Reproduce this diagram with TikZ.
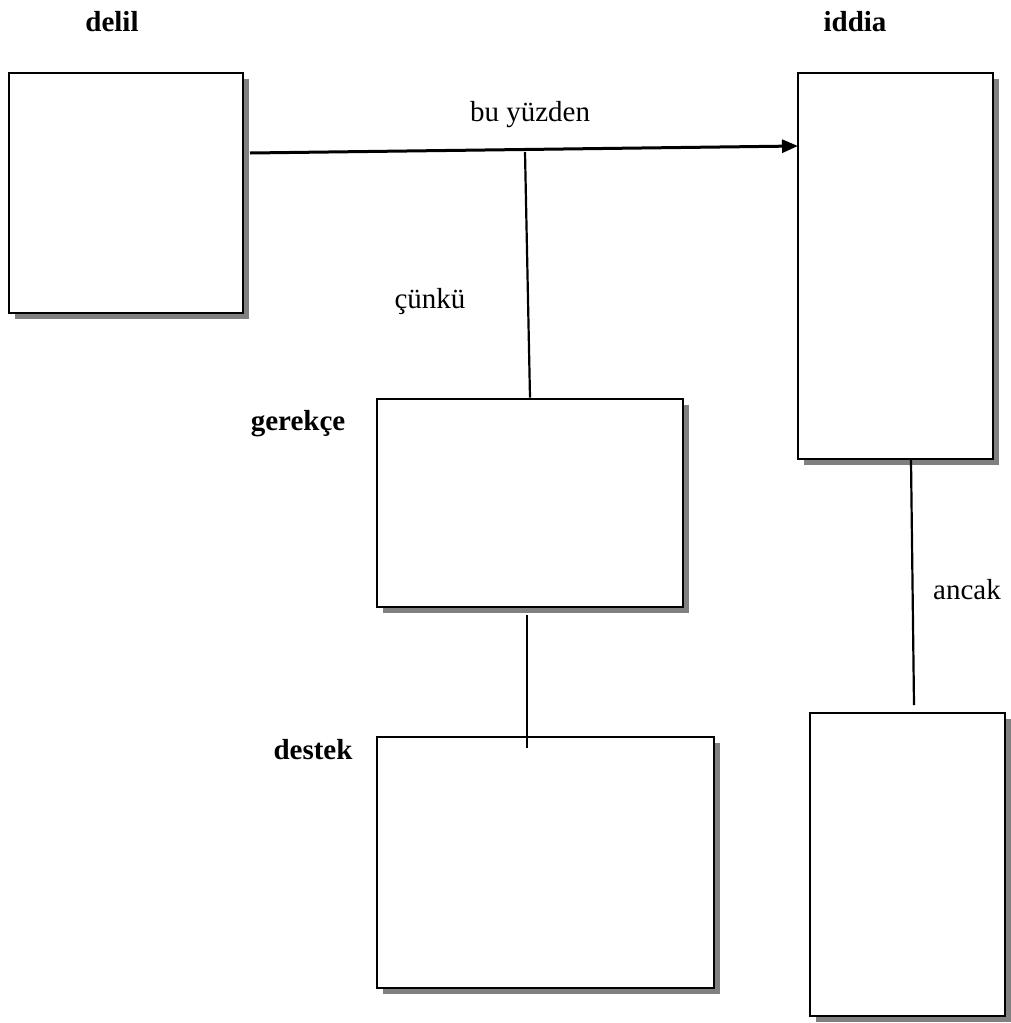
\documentclass[tikz,border=0pt]{standalone}
\usepackage{fontspec}
\setmainfont{Liberation Serif}
\usetikzlibrary{arrows.meta,shadows}

\begin{document}
\begin{tikzpicture}[x=0.5pt, y=-0.5pt,
  kutu/.style={draw, line width=1.3pt, fill=white, inner sep=0pt,
    drop shadow={shadow xshift=2.8pt, shadow yshift=-2.8pt, fill=black!50, opacity=1}},
  baslik/.style={font=\fontsize{14.5}{17}\selectfont\bfseries},
  etiket/.style={font=\fontsize{14.5}{17}\selectfont},
  bag/.style={line width=1.1pt}]
\useasboundingbox (0,0) rectangle (1011,1023);
% ---- boxes ----
\node[kutu, minimum width=117pt, minimum height=120pt] (delil)   at (126,193) {};
\node[kutu, minimum width=97.5pt, minimum height=193pt] (iddia)  at (895.5,266) {};
\node[kutu, minimum width=153pt, minimum height=104pt] (gerekce) at (530,503) {};
\node[kutu, minimum width=168.5pt, minimum height=125.5pt] (destek) at (545.5,862.5) {};
\node[kutu, minimum width=97.5pt, minimum height=151.5pt] (curutme) at (907.5,864.5) {};
% ---- titles ----
\node[baslik] (delillab)   at (112,22) {delil};
\node[baslik] (iddialab)   at (855,22) {iddia};
\node[baslik] (gerekcelab) at (298,424) {gerekçe};
\node[baslik] (desteklab)  at (313,750) {destek};
% ---- connectors ----
\coordinate (okbas) at (250,153);
\coordinate (okuc)  at (798,146);
\coordinate (kavsak) at (525,152);
\draw[line width=1.5pt, -{Triangle[length=8pt, width=6.5pt]}] (okbas) -- (okuc);
\node[etiket] (buyuzden) at (530,115) {bu yüzden};
\draw[bag] (kavsak) -- (gerekce.north);
\node[etiket] (cunku) at (430,302) {çünkü};
\coordinate (destekbas) at (527,615);
\coordinate (destekuc) at (527,748);
\draw[bag] (destekbas) -- (destekuc);
\coordinate (ancakbas) at (911,460);
\coordinate (ancakuc) at (914,705);
\draw[bag] (ancakbas) -- (ancakuc);
\node[etiket] (ancak) at (967,590) {ancak};
\end{tikzpicture}
\end{document}
